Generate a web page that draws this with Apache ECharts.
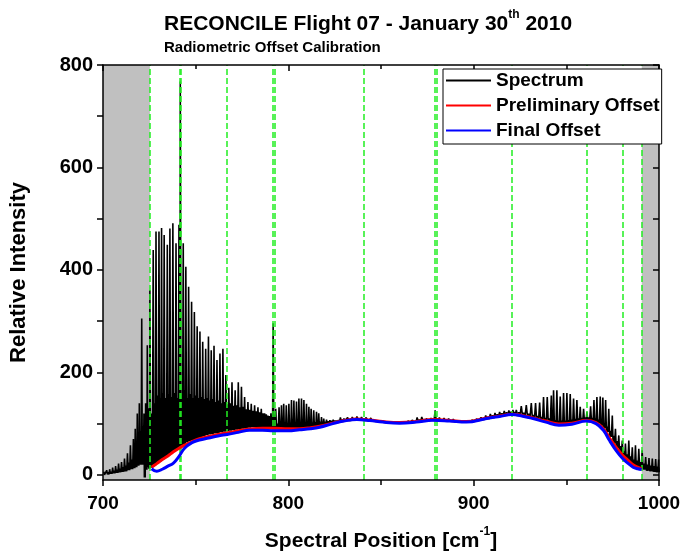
<!DOCTYPE html>
<html><head><meta charset="utf-8">
<script src="https://cdn.jsdelivr.net/npm/echarts@6/dist/echarts.min.js"></script>
<style>html,body{margin:0;padding:0;background:#fff}#c{width:686px;height:558px}</style>
</head><body><div id="c"></div>
<script>
// ---- Spectrum: individual emission lines ----
// position [cm-1], line top, weak line between this and the next, trough value
const lineX = [
700.4,702.0,703.6,705.2,706.8,708.4,710.0,711.6,713.2,714.8,716.4,717.4,718.5,719.6,720.9,722.1,723.0,723.9,724.6,
725.3,727.1,728.6,730.2,731.6,733.0,734.7,736.1,737.7,739.4,741.0,741.7,743.3,744.7,746.2,747.8,749.3,750.8,752.3,753.8,755.4,756.9,758.4,759.9,761.5,763.1,764.7,766.3,767.9,769.6,771.3,773.0,774.7,776.4,778.2,780.0,781.8,783.6,785.4,787.2,789.0,790.6,791.8,
793.2,795.0,796.3,797.5,798.9,800.3,801.7,803.0,804.4,805.7,807.1,808.4,809.8,811.1,812.3,813.7,815.2,816.4,817.9,819.1,820.6,822.4,824.2,826.0,828.1,830.0,
832,834.5,837,839.5,842,844.5,847,849.5,852,854.5,857,859.5,862,864.5,867,869.5,872,874.5,877,879.2,881.5,884,886.5,889,891.5,894,896.5,899,901.5,904,
906.5,909.0,911.5,914.0,916.5,919.0,921.2,923.0,925.7,928.4,931.1,933.4,935.6,937.7,939.7,941.9,943.1,944.9,946.7,948.5,950.3,952.1,953.9,955.7,957.5,959.3,961.1,963.1,964.9,966.5,968.3,969.7,971.2,972.9,974.8,976.5,978.3,980.2,981.9,983.7,985.6,987.3,989.1,990.9,992.8,994.6,996.4,998.2,999.8];
const lineTop = [
6,9,11,14,17,22,25,32,42,58,70,90,120,140,305,120,140,253,130,
361,439,475,475,482,468,449,481,491,452,488,768,452,406,367,338,318,290,280,260,246,270,243,252,224,237,246,195,170,181,165,181,172,152,142,139,136,132,129,120,116,120,296,
129,132,136,139,136,139,146,145,143,149,149,146,139,133,129,126,123,120,113,110,108,107,108,106,112,110,
112,113,114,113,112,111,109,107,106,105,104,103,104,105,107,112,113,110,111,126,112,111,110,109,107,106,105,107,109,112,
116,119,121,123,125,126,127,127,134,136,140,140,141,152,152,155,165,165,153,160,160,158,149,146,133,129,123,134,146,152,153,151,146,129,116,90,77,67,61,67,54,58,51,48,35,33,32,31,30];
const lineWeak = [
3,5,6,8,10,12,15,18,24,30,40,55,70,85,95,100,105,110,110,
120,140,155,150,160,150,158,152,160,150,155,160,165,150,158,150,155,150,152,148,150,145,148,142,145,140,142,138,140,135,136,132,133,128,127,125,124,122,120,118,115,112,118,
100,100,100,100,100,100,100,100,100,100,100,100,100,102,102,103,104,104,104,104,105,106,106,107,108,109,
109,110,111,111,110,108,107,105,104,103,102,101,102,103,105,108,109,108,109,110,109,108,107,106,105,104,104,105,107,109,
113,116,118,120,122,123,123,122,121,119,117,115,113,111,110,108,107,106,106,106,107,108,109,110,111,112,112,111,110,108,104,100,94,86,76,66,56,46,40,36,30,28,25,22,20,18,17,16,15];
const lineBot = [
0,1,2,3,4,5,6,7,9,11,13,15,18,20,20,-5,10,15,12,
14,18,22,26,30,34,38,42,46,50,52,55,60,63,66,68,70,72,74,76,78,79,80,81,82,83,84,85,86,87,88,89,90,91,92,93,93,93,93,93,93,93,93,
90,90,90,90,89,89,89,89,89,89,89,90,90,91,92,93,94,95,96,97,98,99,100,102,104,106,
106,107,108,108,107,106,105,104,103,102,101,101,101,102,103,104,105,106,106,106,106,105,105,104,103,103,103,104,106,108,
109,111,113,115,116,117,117,116,115,113,111,108,106,104,102,100,99,98,97,97,98,99,101,103,104,105,106,105,103,100,96,91,84,74,62,52,42,33,28,23,17,14,12,10,8,7,6,5,5];

// ---- Offset curves ----
const offX = [726.2,729,732,735,738,741,744,748,752,757,762,767,773,779,786,792,800,806,812,817,824,830,837,844,851,860,869,878,887,896,907,914,920.5,926,932,939,946,953,960.8,966,970,973.3,977,980.5,983.5,986,988.5,990.6];
const prelimY = [15,22,30,37,45,52,58,65,70.5,75,79,82,86,89.5,91,91,90,90,92,95,101,106,109,107,104,102,104,108,106,104,111,115,118.5,116,111,105,99.5,101,106,102,90,72,53,38,28,20,15,12];
const finalY = [12,7,11,17,23,36,52,63,68,72,76,79,83,87,87,86,86,88,90,93,100,105,108,106,103,101,103,106.5,105,103,110,114,117.6,115,110,103,97,99,105,100,87,67,47,31.5,22,15,12,10.6];

// ---- Calibration window markers and excluded ranges ----
const calibX = [725.3,741.2,742.1,766.7,791.7,792.6,840.5,878.8,879.9,920.7,961.2,980.6,990.7];
const excluded = [[700,725.3],[990.7,1000]];

const yLabelValues = [0,200,400,600,800];
const yTickValues = [0,100,200,300,400,500,600,700,800];

const F = '"Liberation Sans", Arial, Helvetica, sans-serif';

const spectrum = [];
for (let i = 0; i < lineX.length; i++) {
  const x = lineX[i];
  const d = (i < lineX.length - 1 ? lineX[i + 1] : 1000.2) - x;
  spectrum.push([x, lineTop[i]], [x + d * 0.25, lineBot[i]], [x + d * 0.5, lineWeak[i]], [x + d * 0.75, lineBot[i]]);
}

const chart = echarts.init(document.getElementById('c'), null, {renderer: 'canvas'});
const axisLineStyle = {color: '#000', width: 1.5};
const bold = (s) => ({fontSize: s, fontWeight: 'bold', fontFamily: F, color: '#000'});

chart.setOption({
  animation: false,
  backgroundColor: '#fff',
  title: [{
    text: '{m|RECONCILE Flight 07 - January 30}{s|th}{m| 2010}',
    left: 159, top: 4,
    textStyle: {rich: {
      m: Object.assign(bold(21), {verticalAlign: 'bottom', lineHeight: 26}),
      s: Object.assign(bold(12), {verticalAlign: 'top', lineHeight: 14})
    }}
  }, {
    text: 'Radiometric Offset Calibration',
    left: 159, top: 35,
    textStyle: bold(15)
  }],
  legend: {
    left: 443, top: 69, orient: 'vertical',
    padding: [1, 2, 3, 2], itemGap: 4, itemWidth: 45, itemHeight: 1,
    itemStyle: {opacity: 0},
    borderColor: '#000', borderWidth: 1, backgroundColor: '#fff', z: 10,
    textStyle: Object.assign(bold(19), {lineHeight: 21}),
    data: ['Spectrum', 'Preliminary Offset', 'Final Offset']
  },
  grid: {left: 103, right: 27, top: 65, bottom: 78, containLabel: false},
  xAxis: [{
    type: 'value', min: 700, max: 1000, interval: 100, position: 'bottom', z: 8,
    axisLine: {show: true, onZero: false, lineStyle: axisLineStyle},
    axisTick: {show: true, inside: false, length: 6, lineStyle: axisLineStyle},
    minorTick: {show: true, splitNumber: 2, length: 5, lineStyle: axisLineStyle},
    axisLabel: Object.assign(bold(19), {margin: 14, formatter: (v) => String(v)}),
    splitLine: {show: false},
    name: '{m|Spectral Position [cm}{s|-1}{m|]}',
    nameLocation: 'middle', nameGap: 46,
    nameTextStyle: {rich: {
      m: Object.assign(bold(21), {verticalAlign: 'bottom', lineHeight: 26}),
      s: Object.assign(bold(12), {verticalAlign: 'top', lineHeight: 14})
    }}
  }, {
    type: 'value', min: 700, max: 1000, interval: 100, position: 'top', z: 8,
    axisLine: {show: true, onZero: false, lineStyle: axisLineStyle},
    axisTick: {show: true, inside: true, length: 6, lineStyle: axisLineStyle},
    minorTick: {show: true, splitNumber: 2, length: 4, lineStyle: axisLineStyle},
    axisLabel: {show: false}, splitLine: {show: false}
  }],
  yAxis: [{
    type: 'value', min: -10, max: 800, position: 'left', z: 8,
    axisLine: {show: true, onZero: false, lineStyle: axisLineStyle},
    axisTick: {show: true, inside: false, length: 6, customValues: yTickValues, lineStyle: axisLineStyle},
    axisLabel: Object.assign(bold(20), {margin: 10, customValues: yLabelValues}),
    splitLine: {show: false},
    name: 'Relative Intensity', nameLocation: 'middle', nameGap: 73,
    nameTextStyle: bold(22)
  }, {
    type: 'value', min: -10, max: 800, position: 'right', z: 8,
    axisLine: {show: true, onZero: false, lineStyle: axisLineStyle},
    axisTick: {show: true, inside: true, length: 6, customValues: yTickValues, lineStyle: axisLineStyle},
    axisLabel: {show: false}, splitLine: {show: false}
  }],
  series: [{
    name: 'Spectrum', type: 'line', data: spectrum, symbol: 'none', showSymbol: false,
    lineStyle: {color: '#000', width: 1.6}, itemStyle: {color: '#000'}, z: 2, clip: true,
    markArea: {silent: true, itemStyle: {color: '#c0c0c0'},
      data: excluded.map(r => [{xAxis: r[0]}, {xAxis: r[1]}])},
    markLine: {silent: true, symbol: ['none', 'none'], label: {show: false},
      lineStyle: {color: '#22ee22', type: [6, 3], width: 1.5},
      data: calibX.map(v => ({xAxis: v}))}
  }, {
    name: 'Preliminary Offset', type: 'line', data: offX.map((x, i) => [x, prelimY[i]]),
    symbol: 'none', smooth: 0.4, lineStyle: {color: '#ff0000', width: 3}, itemStyle: {color: '#ff0000'}, z: 6
  }, {
    name: 'Final Offset', type: 'line', data: offX.map((x, i) => [x, finalY[i]]),
    symbol: 'none', smooth: 0.4, lineStyle: {color: '#0000ff', width: 3}, itemStyle: {color: '#0000ff'}, z: 7
  }]
});
</script></body></html>
